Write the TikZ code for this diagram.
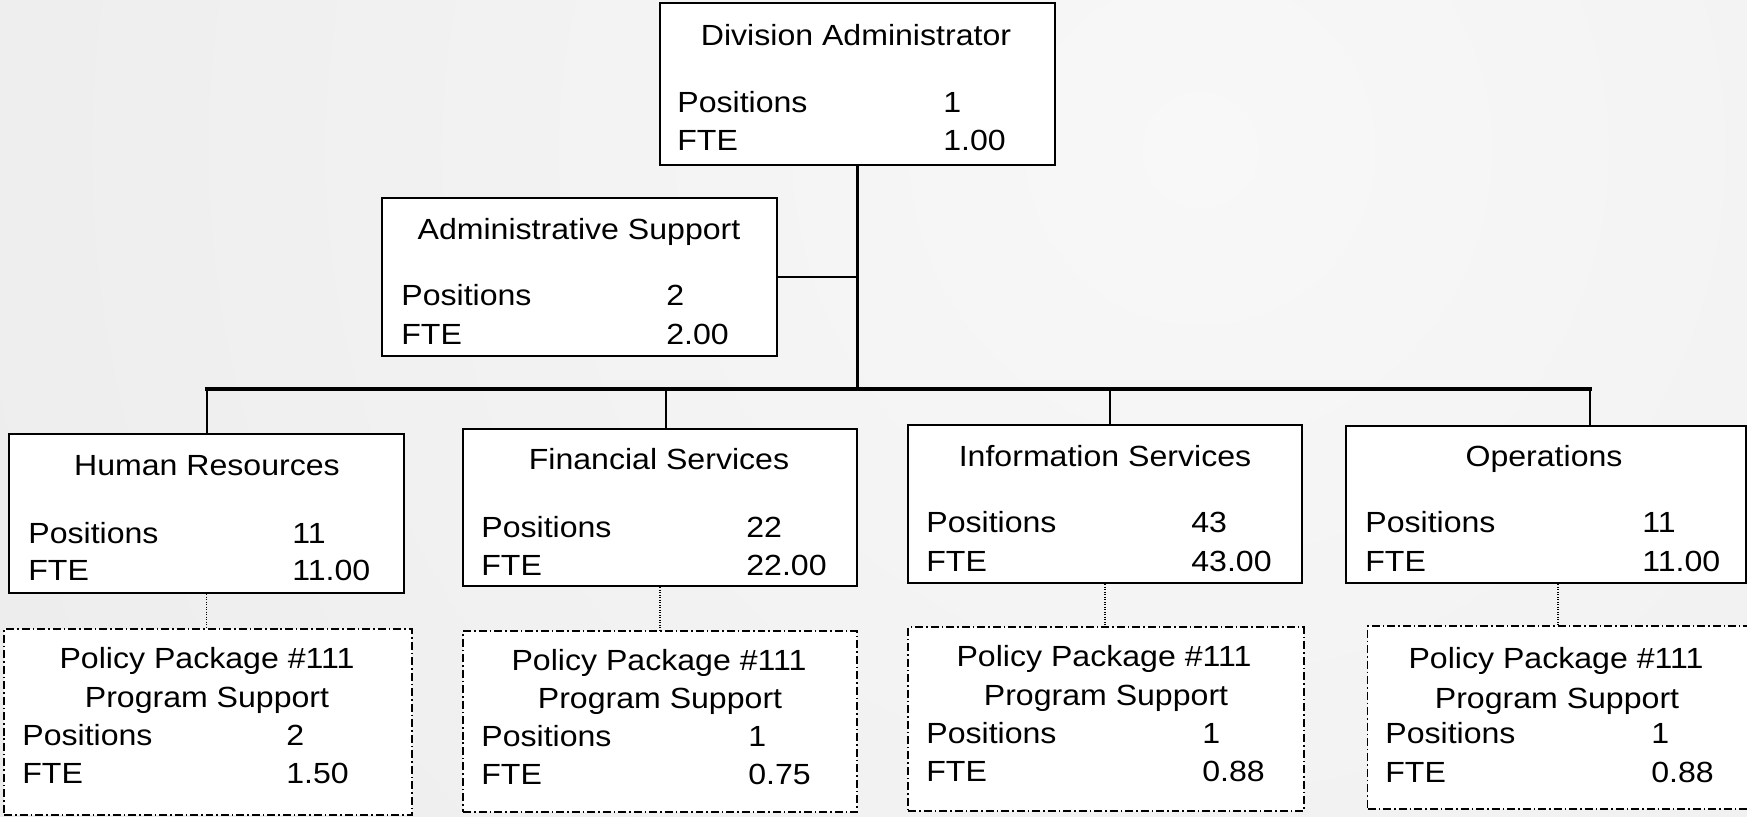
\documentclass[tikz,border=0pt]{standalone}
\usepackage{fontspec}
\setmainfont{Liberation Sans}[FakeStretch=1.1]
\usetikzlibrary{calc}

\definecolor{bgin}{HTML}{F8F8F8}
\definecolor{bgout}{HTML}{E0E0E0}

\tikzset{
  unit/.style={draw, fill=white, line width=1.3pt, inner sep=0pt},
  package/.style={draw, fill=white, line width=0.9pt, inner sep=0pt,
    dash pattern=on 0.16cm off 0.06cm on 0.03cm off 0.06cm},
  head/.style={anchor=base, inner sep=0pt, font=\fontsize{16.6}{20}\selectfont},
  txt/.style={anchor=base west, inner sep=0pt, font=\fontsize{16.6}{20}\selectfont},
  link/.style={line width=1.2pt},
  thinlink/.style={line width=1pt},
  bus/.style={line width=1.8pt, line cap=rect},
  dotlink/.style={line width=0.9pt, dash pattern=on 0.025cm off 0.025cm}
}

\begin{document}
\begin{tikzpicture}[x=0.02cm, y=0.02cm]
  \useasboundingbox (0,0) rectangle (1747,-816);
  \begin{scope}
    \clip (0,0) rectangle (1747,-816);
    \shade[inner color=bgin, outer color=bgout] (1200,-150) circle (2800);

    % top of the division
    \node[unit, minimum width=7.9cm, minimum height=3.24cm] (da) at (857.5,-84) {};
    \node[head] (da-t) at (856,-45) {Division Administrator};
    \node[txt] (da-p) at (677,-112) {Positions};
    \node[txt] (da-pv) at (943,-112) {1};
    \node[txt] (da-f) at (677,-150) {FTE};
    \node[txt] (da-fv) at (943,-150) {1.00};

    \node[unit, minimum width=7.9cm, minimum height=3.16cm] (as) at (579.5,-277) {};
    \node[head] (as-t) at (579,-239) {Administrative Support};
    \node[txt] (as-p) at (401,-305) {Positions};
    \node[txt] (as-pv) at (666,-305) {2};
    \node[txt] (as-f) at (401,-344) {FTE};
    \node[txt] (as-fv) at (666,-344) {2.00};

    % sections
    \node[unit, minimum width=7.9cm, minimum height=3.18cm] (hr) at (206.5,-513.5) {};
    \node[head] (hr-t) at (207,-475) {Human Resources};
    \node[txt] (hr-p) at (28,-543) {Positions};
    \node[txt] (hr-pv) at (292,-543) {11};
    \node[txt] (hr-f) at (28,-580) {FTE};
    \node[txt] (hr-fv) at (292,-580) {11.00};

    \node[unit, minimum width=7.88cm, minimum height=3.14cm] (fs) at (660,-507.5) {};
    \node[head] (fs-t) at (659,-469) {Financial Services};
    \node[txt] (fs-p) at (481,-537) {Positions};
    \node[txt] (fs-pv) at (746,-537) {22};
    \node[txt] (fs-f) at (481,-575) {FTE};
    \node[txt] (fs-fv) at (746,-575) {22.00};

    \node[unit, minimum width=7.88cm, minimum height=3.16cm] (is) at (1105,-504) {};
    \node[head] (is-t) at (1105,-466) {Information Services};
    \node[txt] (is-p) at (926,-532) {Positions};
    \node[txt] (is-pv) at (1191,-532) {43};
    \node[txt] (is-f) at (926,-571) {FTE};
    \node[txt] (is-fv) at (1191,-571) {43.00};

    \node[unit, minimum width=8cm, minimum height=3.14cm] (ops) at (1546,-504.5) {};
    \node[head] (ops-t) at (1544,-466) {Operations};
    \node[txt] (ops-p) at (1365,-532) {Positions};
    \node[txt] (ops-pv) at (1642,-532) {11};
    \node[txt] (ops-f) at (1365,-571) {FTE};
    \node[txt] (ops-fv) at (1642,-571) {11.00};

    % policy packages
    \node[package, minimum width=8.16cm, minimum height=3.72cm] (hrp) at (208,-722) {};
    \node[head] (hrp-t) at (207,-668) {Policy Package \#111};
    \node[head] (hrp-s) at (207,-707) {Program Support};
    \node[txt] (hrp-p) at (22,-745) {Positions};
    \node[txt] (hrp-pv) at (286,-745) {2};
    \node[txt] (hrp-f) at (22,-783) {FTE};
    \node[txt] (hrp-fv) at (286,-783) {1.50};

    \node[package, minimum width=7.88cm, minimum height=3.62cm] (fsp) at (660,-721.5) {};
    \node[head] (fsp-t) at (659,-670) {Policy Package \#111};
    \node[head] (fsp-s) at (660,-708) {Program Support};
    \node[txt] (fsp-p) at (481,-746) {Positions};
    \node[txt] (fsp-pv) at (748,-746) {1};
    \node[txt] (fsp-f) at (481,-784) {FTE};
    \node[txt] (fsp-fv) at (748,-784) {0.75};

    \node[package, minimum width=7.92cm, minimum height=3.68cm] (isp) at (1106,-719) {};
    \node[head] (isp-t) at (1104,-666) {Policy Package \#111};
    \node[head] (isp-s) at (1106,-705) {Program Support};
    \node[txt] (isp-p) at (926,-743) {Positions};
    \node[txt] (isp-pv) at (1202,-743) {1};
    \node[txt] (isp-f) at (926,-781) {FTE};
    \node[txt] (isp-fv) at (1202,-781) {0.88};

    \node[package, minimum width=7.9cm, minimum height=3.66cm] (opsp) at (1565,-717.5) {};
    \node[head] (opsp-t) at (1556,-668) {Policy Package \#111};
    \node[head] (opsp-s) at (1557,-708) {Program Support};
    \node[txt] (opsp-p) at (1385,-743) {Positions};
    \node[txt] (opsp-pv) at (1651,-743) {1};
    \node[txt] (opsp-f) at (1385,-782) {FTE};
    \node[txt] (opsp-fv) at (1651,-782) {0.88};

    % connectors
    \coordinate (busL) at (207,-389);
    \coordinate (fsj) at (666,-389);
    \coordinate (isj) at (1110,-389);
    \coordinate (busR) at (1590,-389);
    \coordinate (opsd) at ([xshift=0.24cm]ops.south);

    \draw[link] (da.south) -- (da.south |- busL);
    \draw[thinlink] (as.east) -- (as.east -| da.south);
    \draw[bus] (busL) -- (busR);
    \draw[link] (busL) -- (busL |- hr.north);
    \draw[link] (fsj) -- (fsj |- fs.north);
    \draw[link] (isj) -- (isj |- is.north);
    \draw[link] (busR) -- (busR |- ops.north);

    \draw[dotlink] (hr.south) -- (hr.south |- hrp.north);
    \draw[dotlink] (fs.south) -- (fs.south |- fsp.north);
    \draw[dotlink] (is.south) -- (is.south |- isp.north);
    \draw[dotlink] (opsd) -- (opsd |- opsp.north);
  \end{scope}
\end{tikzpicture}
\end{document}
